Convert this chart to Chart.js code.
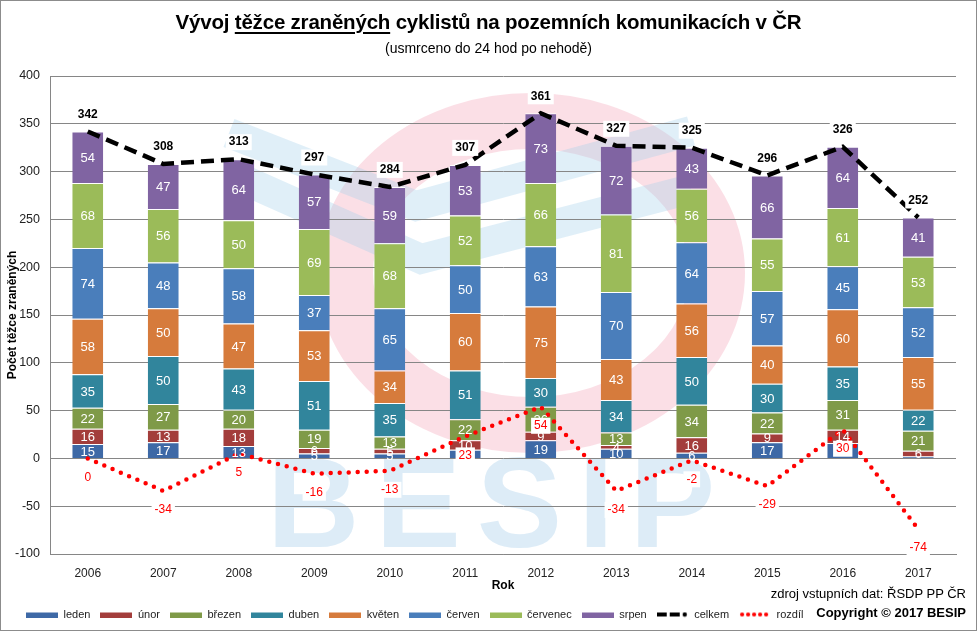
<!DOCTYPE html>
<html>
<head>
<meta charset="utf-8">
<script src="https://cdn.jsdelivr.net/npm/chart.js@4.4.0/dist/chart.umd.min.js"></script>
<style>
html, body { margin: 0; padding: 0; background: #fff; }
#wrap { position: relative; width: 975px; height: 629px; border: 1px solid #8c8c8c; font-family: "Liberation Sans", Arial, sans-serif; overflow: hidden; }
#graf { position: absolute; left: 0; top: 0; }
.nadpis { position: absolute; left: 0; top: 7px; width: 100%; text-align: center; font-size: 20.5px; font-weight: bold; line-height: 28px; color: #000; letter-spacing: -0.2px; }
.nadpis u { text-decoration-thickness: 2px; text-underline-offset: 3px; }
.podnadpis { position: absolute; left: 0; top: 38px; width: 100%; text-align: center; font-size: 14px; line-height: 18px; color: #000; }
.zdroj { position: absolute; right: 10px; top: 584px; font-size: 13px; line-height: 17px; color: #000; text-align: right; }
.copy { position: absolute; right: 10px; top: 603px; font-size: 13px; line-height: 18px; font-weight: bold; color: #000; text-align: right; }
</style>
</head>
<body>
<div id="wrap">
  <canvas id="graf" width="975" height="629"></canvas>
  <div class="nadpis">Vývoj <u>těžce zraněných</u> cyklistů na pozemních komunikacích v ČR</div>
  <div class="podnadpis">(usmrceno do 24 hod po nehodě)</div>
  <div class="zdroj">zdroj vstupních dat: ŘSDP PP ČR</div>
  <div class="copy">Copyright © 2017 BESIP</div>
</div>
<script>
// data
var roky = ['2006', '2007', '2008', '2009', '2010', '2011', '2012', '2013', '2014', '2015', '2016', '2017'];
var leden    = [15, 17, 13, 5, 5, 9, 19, 10, 6, 17, 16, 2];
var unor     = [16, 13, 18, 6, 5, 10, 9, 4, 16, 9, 14, 6];
var brezen   = [22, 27, 20, 19, 13, 22, 26, 13, 34, 22, 31, 21];
var duben    = [35, 50, 43, 51, 35, 51, 30, 34, 50, 30, 35, 22];
var kveten   = [58, 50, 47, 53, 34, 60, 75, 43, 56, 40, 60, 55];
var cerven   = [74, 48, 58, 37, 65, 50, 63, 70, 64, 57, 45, 52];
var cervenec = [68, 56, 50, 69, 68, 52, 66, 81, 56, 55, 61, 53];
var srpen    = [54, 47, 64, 57, 59, 53, 73, 72, 43, 66, 64, 41];
var celkem   = [342, 308, 313, 297, 284, 307, 361, 327, 325, 296, 326, 252];
var rozdil   = [0, -34, 5, -16, -13, 23, 54, -34, -2, -29, 30, -74];
var yTicks   = [-100, -50, 0, 50, 100, 150, 200, 250, 300, 350, 400];

var mesice = [
  ['leden', leden, '#3E69A6'],
  ['únor', unor, '#A33D3B'],
  ['březen', brezen, '#7F9A48'],
  ['duben', duben, '#31859C'],
  ['květen', kveten, '#D67B3C'],
  ['červen', cerven, '#4A7EBB'],
  ['červenec', cervenec, '#9BBB59'],
  ['srpen', srpen, '#8064A2']
];

var font = '"Liberation Sans", Arial, sans-serif';

// vzorky do legendy
function vzorek(kresli) {
  var c = document.createElement('canvas');
  c.width = 32; c.height = 6;
  kresli(c.getContext('2d'));
  return c;
}
var vzorky = mesice.map(function(m) {
  return vzorek(function(g) { g.fillStyle = m[2]; g.fillRect(0, 1, 32, 5); });
});
vzorky.push(vzorek(function(g) {
  g.fillStyle = '#000';
  g.fillRect(0, 1, 10, 4); g.fillRect(13, 1, 10, 4);
  g.beginPath(); g.arc(28, 3, 2.2, 0, Math.PI * 2); g.fill();
}));
vzorky.push(vzorek(function(g) {
  g.fillStyle = '#ff0000';
  [3, 9, 15, 21, 27].forEach(function(x) { g.beginPath(); g.arc(x, 3, 2.1, 0, Math.PI * 2); g.fill(); });
}));

var datasets = mesice.map(function(m) {
  return {
    type: 'bar',
    label: m[0],
    data: m[1],
    backgroundColor: m[2],
    borderColor: '#ffffff',
    borderWidth: { top: 1, left: 0, right: 0, bottom: 0 },
    borderSkipped: 'start',
    barPercentage: 0.41,
    categoryPercentage: 1,
    stack: 'mesice',
    order: 1
  };
});
datasets.push({
  type: 'line',
  label: 'celkem',
  data: celkem,
  borderColor: '#000',
  backgroundColor: '#000',
  borderWidth: 4.5,
  borderDash: [13, 7],
  pointRadius: 0,
  tension: 0,
  stack: 'celkem',
  order: 0
});
datasets.push({
  type: 'line',
  label: 'rozdíl',
  data: rozdil,
  borderColor: '#ff0000',
  backgroundColor: '#ff0000',
  borderWidth: 4.5,
  borderDash: [0, 9],
  borderCapStyle: 'round',
  pointRadius: 0,
  tension: 0,
  stack: 'rozdil',
  order: 0
});

function stitek(ctx, text, x, y, barva) {
  var w = ctx.measureText(text).width;
  ctx.fillStyle = '#fff';
  ctx.fillRect(x - w / 2 - 3, y - 8, w + 6, 16);
  ctx.fillStyle = barva;
  ctx.fillText(text, x, y);
}

var popisky = {
  id: 'popisky',
  afterDatasetsDraw: function(chart) {
    var ctx = chart.ctx;
    ctx.save();
    ctx.textAlign = 'center';
    ctx.textBaseline = 'middle';
    ctx.font = '13px ' + font;
    ctx.fillStyle = '#fff';
    chart.data.datasets.forEach(function(ds, i) {
      if (ds.type !== 'bar') return;
      chart.getDatasetMeta(i).data.forEach(function(bar, j) {
        if (ds.data[j] < 3) return;
        ctx.fillText(String(ds.data[j]), bar.x, (bar.y + bar.base) / 2 + 1);
      });
    });
    var n = chart.data.datasets.length;
    ctx.font = 'bold 12px ' + font;
    chart.getDatasetMeta(n - 2).data.forEach(function(p, j) {
      stitek(ctx, String(celkem[j]), p.x, p.y - 17, '#000');
    });
    ctx.font = '12px ' + font;
    chart.getDatasetMeta(n - 1).data.forEach(function(p, j) {
      stitek(ctx, String(rozdil[j]), p.x, p.y + 19, '#ff0000');
    });
    ctx.restore();
  }
};

// vodoznak BESIP v pozadí
var vodoznak = {
  id: 'vodoznak',
  beforeDraw: function(chart) {
    var ctx = chart.ctx;
    ctx.save();
    ctx.strokeStyle = 'rgba(235,110,140,0.22)';
    ctx.lineWidth = 56;
    ctx.beginPath();
    ctx.ellipse(530, 272, 186, 152, 0, 0, Math.PI * 2);
    ctx.stroke();
    ctx.strokeStyle = 'rgba(160,205,235,0.33)';
    ctx.lineWidth = 30;
    ctx.lineJoin = 'miter';
    ctx.beginPath();
    ctx.moveTo(228, 132); ctx.lineTo(415, 205); ctx.lineTo(690, 130);
    ctx.stroke();
    ctx.beginPath();
    ctx.moveTo(245, 180); ctx.lineTo(420, 258); ctx.lineTo(690, 188);
    ctx.stroke();
    ctx.fillStyle = 'rgba(150,195,230,0.32)';
    ctx.font = 'bold 128px ' + font;
    ctx.letterSpacing = '16px';
    ctx.textAlign = 'center';
    ctx.textBaseline = 'alphabetic';
    ctx.fillText('BESIP', 498, 546);
    ctx.restore();
  }
};

var posunLegendy = {
  id: 'posunLegendy',
  afterLayout: function(chart) {
    chart.legend.left += 13;
    chart.legend.right += 13;
  }
};

new Chart(document.getElementById('graf'), {
  data: { labels: roky, datasets: datasets },
  options: {
    responsive: false,
    animation: false,
    layout: { padding: { top: 75, right: 20, bottom: 0, left: 2 } },
    plugins: {
      title: { display: false },
      tooltip: { enabled: false },
      legend: {
        position: 'bottom',
        align: 'start',
        labels: {
          usePointStyle: true,
          pointStyleWidth: 32,
          boxHeight: 6,
          padding: 10,
          color: '#222',
          font: { family: font, size: 11 },
          sort: function(a, b) { return a.datasetIndex - b.datasetIndex; },
          generateLabels: function(chart) {
            var items = Chart.defaults.plugins.legend.labels.generateLabels(chart);
            items.forEach(function(it) { it.pointStyle = vzorky[it.datasetIndex]; it.rotation = 0; });
            return items;
          }
        }
      }
    },
    scales: {
      x: {
        stacked: true,
        afterFit: function(scale) { scale.height = 45; },
        grid: { display: false, drawTicks: false },
        border: { display: true, color: '#868686' },
        ticks: { color: '#222', padding: 12, font: { family: font, size: 12 } },
        title: { display: true, text: 'Rok', color: '#000', padding: { top: 0, bottom: 6 }, font: { family: font, size: 12, weight: 'bold' } }
      },
      y: {
        stacked: true,
        min: -100,
        max: 400,
        afterBuildTicks: function(scale) { scale.ticks = yTicks.map(function(v) { return { value: v }; }); },
        afterFit: function(scale) { scale.width = 47; },
        grid: { color: '#868686', drawTicks: false },
        border: { display: true, color: '#868686' },
        ticks: { color: '#222', padding: 10, font: { family: font, size: 12.5 } },
        title: { display: true, text: 'Počet těžce zraněných', color: '#000', padding: { top: 2, bottom: 0 }, font: { family: font, size: 12, weight: 'bold' } }
      }
    }
  },
  plugins: [vodoznak, popisky, posunLegendy]
});
</script>
</body>
</html>
